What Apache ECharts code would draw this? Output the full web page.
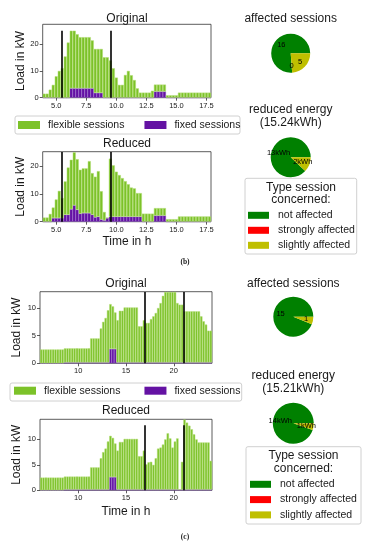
<!DOCTYPE html>
<html><head><meta charset="utf-8">
<script src="https://cdn.jsdelivr.net/npm/echarts@6/dist/echarts.min.js"></script>
<style>html,body{margin:0;padding:0;background:#fff}#c{width:371px;height:550px}</style>
</head><body><div id="c"></div>
<script>
// ---------- (b) load profiles, 15-min bins centred from 4:00 ----------
const bStart = 4.0, binH = 0.25;
const bTimes = Array.from({length: 56}, (_, i) => bStart + binH * i);
const bOrigFlex = [1.5,1.5,3.0,4.8,8.0,10.0,11.0,15.4,20.6,21.5,21.5,20.2,19.1,19.1,19.1,19.1,17.9,16.4,16.4,16.4,
  15.1,15.1,13.9,11.0,7.5,4.8,4.8,8.5,10.0,8.4,6.6,3.5,1.9,1.9,1.9,1.9,2.6,2.6,2.6,2.6,2.6,0.9,0.9,0.9,0.9,
  1.9,1.9,1.9,1.9,1.9,1.9,1.9,1.9,1.9,1.9,1.9];
const bOrigFixed = [0,0,0,0,0,0,0,0,0,3.5,3.5,3.5,3.5,3.5,3.5,3.5,3.5,1.8,1.8,1.8,
  0,0,0,0,0,0,0,0,0,0,0,0,0,0,0,0,0,2.3,2.3,2.3,2.3,0,0,0,0,
  0,0,0,0,0,0,0,0,0,0,0];
const bRedFlex = [1.5,1.5,2.8,3.8,6.7,9.8,7.2,12.0,17.0,17.8,19.1,18.2,15.8,16.1,16.1,18.7,15.0,14.6,16.4,10.2,
  3.0,0.2,20.9,18.5,16.2,15.0,13.9,12.8,11.7,10.5,10.2,8.5,8.5,2.9,2.9,2.9,2.9,2.7,2.7,2.7,2.7,0.9,0.9,0.9,0.9,
  1.9,1.9,1.9,1.9,1.9,1.9,1.9,1.9,1.9,1.9,1.9];
const bRedFixed = [0,0,0,1.3,1.3,1.3,1.3,2.5,2.5,4.5,5.9,4.3,2.9,3.1,3.1,3.1,2.5,1.6,1.8,0.8,
  0.5,1.3,1.8,1.8,1.8,1.8,1.8,1.8,1.8,1.8,1.8,1.8,1.8,0,0,0,0,2.2,2.2,2.2,2.2,0,0,0,0,
  0,0,0,0,0,0,0,0,0,0,0];
const bLineTimes = [5.5, 9.5];
const bOrigLineTop = 25, bRedLineTop = 25.1;
const bXTicks = [5, 7.5, 10, 12.5, 15, 17.5];
const bYTicks = [0, 10, 20];

// ---------- (c) load profiles, 15-min bins from 6:00 ----------
const cStart = 6.125;
const cTimes = Array.from({length: 72}, (_, i) => cStart + binH * i);
const cOrigFlex = [2.5,2.5,2.5,2.5,2.5,2.5,2.5,2.5,2.5,2.5,
  2.55,2.55,2.55,2.55,2.55,2.55,2.55,2.55,2.55,2.55,2.55,
  4.35,4.35,4.35,4.35,6.15,7.35,8.05,9.45,8.1,7.7,6.6,7.65,9.35,9.35,
  9.95,9.95,9.95,9.95,9.95,9.95,6.55,6.55,7.65,
  7.15,7.15,7.85,8.35,8.95,9.85,10.75,12.05,12.75,12.75,12.75,12.75,12.75,10.75,10.45,10.45,
  9.25,9.25,9.25,9.25,9.25,9.25,9.25,8.35,7.45,6.85,5.75,5.75];
const cOrigFixed = [0,0,0,0,0,0,0,0,0,0,
  0.15,0.15,0.15,0.15,0.15,0.15,0.15,0.15,0.15,0.15,0.15,
  0.15,0.15,0.15,0.15,0.15,0.15,0.15,0.15,2.6,2.6,2.6,0.15,0.15,0.15,
  0.15,0.15,0.15,0.15,0.15,0.15,0.15,0.15,0.15,
  0.15,0.15,0.15,0.15,0.15,0.15,0.15,0.15,0.15,0.15,0.15,0.15,0.15,0.15,0.15,0.15,
  0.15,0.15,0.15,0.15,0.15,0.15,0.15,0.15,0.15,0.15,0.15,0.15];
const cRedFlex = [2.5,2.5,2.5,2.5,2.5,2.5,2.5,2.5,2.5,2.5,
  2.55,2.55,2.55,2.55,2.55,2.55,2.55,2.55,2.55,2.55,2.55,
  4.35,4.35,4.35,4.35,6.15,7.35,8.05,9.45,8.1,7.7,6.6,7.65,9.35,9.35,
  9.95,9.95,9.95,9.95,9.95,9.95,6.55,6.55,7.65,
  4.95,5.35,5.45,4.85,6.15,8.05,8.25,8.85,9.85,11.05,10.05,8.25,9.45,10.05,0,5.45,
  13.75,13.15,12.55,11.85,10.85,9.85,9.25,9.25,9.25,9.25,9.25,5.65];
const cRedFixed = cOrigFixed.slice();
const cLineTimes = [17, 21];
const cOrigLineTop = 12.9, cRedLineTop = 12.8;
const cXTicks = [10, 15, 20];
const cYTicks = [0, 5, 10];

// ---------- pies ----------
const pieNames = ['not affected', 'strongly affected', 'slightly affected'];
const bSessions = [16, 0, 5];
const bEnergy = [13.4, 0, 1.84];
const cSessions = [15, 0, 1];
const cEnergy = [14.4, 0, 0.81];

const FLEX = '#7cc229', FIX = '#6412a3';
const PIE_COLORS = ['#008000', '#ff0000', '#bfbf00'];
const FONT = 'Liberation Sans, Arial, sans-serif';
const TXT = '#1a1a1a';

const grids = [
  {left: 42.7, top: 24.3, width: 168.3, height: 73.4},
  {left: 42.7, top: 151.7, width: 168.3, height: 70},
  {left: 40, top: 291.7, width: 172, height: 71.6},
  {left: 40, top: 419.3, width: 172, height: 71}
].map(g => Object.assign({show: true, borderColor: '#333', borderWidth: 0.8, backgroundColor: 'transparent'}, g));

function catAx(gi, times) {
  return {type: 'category', gridIndex: gi, position: 'top', data: times.map(String), boundaryGap: true, show: false};
}
function xAx(gi, min, max, ticks, fmt, nameGap) {
  return {type: 'value', gridIndex: gi, position: 'bottom', min, max,
    axisLine: {show: false},
    axisTick: {show: true, customValues: ticks, length: 3, lineStyle: {color: '#333', width: 0.8}},
    axisLabel: {customValues: ticks, formatter: fmt, fontSize: 7.5, color: TXT, margin: 4, fontFamily: FONT},
    splitLine: {show: false},
    name: nameGap ? 'Time in h' : '', nameLocation: 'middle', nameGap: nameGap || 0,
    nameTextStyle: {fontSize: 12, color: TXT, fontFamily: FONT}};
}
function yAx(gi, max, ticks, nameGap) {
  return {type: 'value', gridIndex: gi, min: 0, max,
    axisLine: {show: false},
    axisTick: {show: true, customValues: ticks, length: 3, lineStyle: {color: '#333', width: 0.8}},
    axisLabel: {customValues: ticks, fontSize: 7.5, color: TXT, margin: 4, fontFamily: FONT},
    splitLine: {show: false},
    name: 'Load in kW', nameLocation: 'middle', nameGap, nameRotate: 90,
    nameTextStyle: {fontSize: 12, color: TXT, fontFamily: FONT}};
}
function barPair(gi, fixed, flex, lines, top) {
  const common = {type: 'bar', xAxisIndex: 2 * gi, yAxisIndex: gi, stack: 'load' + gi,
    barCategoryGap: '0%', barGap: '0%', silent: true};
  return [
    Object.assign({}, common, {name: 'fixed sessions', data: fixed,
      itemStyle: {color: FIX, borderColor: '#8c55c4', borderWidth: 0.4}}),
    Object.assign({}, common, {name: 'flexible sessions', data: flex,
      itemStyle: {color: FLEX, borderColor: '#b4df78', borderWidth: 0.5}}),
    {type: 'line', name: 'limits' + gi, xAxisIndex: 2 * gi + 1, yAxisIndex: gi, data: [], silent: true,
      markLine: {silent: true, symbol: ['none', 'none'], label: {show: false}, z: 10,
        lineStyle: {color: '#000', width: 1.6, type: 'solid'},
        data: lines.map(x => [{coord: [x, 0]}, {coord: [x, top]}])}}
  ];
}
function pie(center, r, vals, fmt) {
  return {type: 'pie', center, radius: [0, r], startAngle: 0, clockwise: false, silent: true,
    color: PIE_COLORS, minAngle: 0,
    label: {show: true, position: 'inside', formatter: fmt, fontSize: 7.5, color: '#000', fontFamily: FONT},
    labelLine: {show: false}, emphasis: {disabled: true},
    data: pieNames.map((n, i) => ({name: n, value: vals[i]}))};
}
const cntFmt = p => String(p.value);
const kwhFmt = p => Math.round(p.value) + 'kWh';

function txt(x, y, text, size, extra) {
  return {type: 'text', x, y, silent: true, z: 100,
    style: Object.assign({text, fontSize: size, fontFamily: FONT, fill: TXT, align: 'center', verticalAlign: 'middle'}, extra || {})};
}
function box(x, y, w, h) {
  return {type: 'rect', shape: {x, y, width: w, height: h, r: 2}, silent: true, z: 1,
    style: {fill: '#fff', stroke: '#d0d0d0', lineWidth: 1}};
}

const barLegend = (left, top, gap) => ({data: ['flexible sessions', 'fixed sessions'], left, top, orient: 'horizontal',
  itemWidth: 22, itemHeight: 8, itemGap: gap, padding: 0, selectedMode: false, icon: 'rect', z: 10,
  itemStyle: {borderWidth: 0},
  textStyle: {fontSize: 10.5, color: TXT, fontFamily: FONT, lineHeight: 12, padding: [0, 0, 0, 3]}});
const pieLegend = (left, top, gap) => ({data: pieNames, left, top, orient: 'vertical',
  itemWidth: 21, itemHeight: 7, itemGap: gap, padding: 0, selectedMode: false, icon: 'rect', z: 10,
  itemStyle: {borderWidth: 0},
  textStyle: {fontSize: 10.5, color: TXT, fontFamily: FONT, lineHeight: 12, padding: [0, 0, 0, 4]}});

const option = {
  animation: false,
  backgroundColor: '#fff',
  grid: grids,
  xAxis: [
    catAx(0, bTimes), xAx(0, 3.875, 17.875, bXTicks, v => v.toFixed(1), 0),
    catAx(1, bTimes), xAx(1, 3.875, 17.875, bXTicks, v => v.toFixed(1), 14),
    catAx(2, cTimes), xAx(2, 6, 24, cXTicks, v => String(v), 0),
    catAx(3, cTimes), xAx(3, 6, 24, cXTicks, v => String(v), 15.5)
  ],
  yAxis: [
    yAx(0, 27.4, bYTicks, 15.5),
    yAx(1, 25.2, bYTicks, 15.5),
    yAx(2, 12.95, cYTicks, 17),
    yAx(3, 13.95, cYTicks, 17)
  ],
  legend: [
    barLegend(18, 119, 20),
    barLegend(14, 384.7, 24),
    pieLegend(248, 209.3, 3),
    pieLegend(250, 478.3, 3.3)
  ],
  series: [].concat(
    barPair(0, bOrigFixed, bOrigFlex, bLineTimes, bOrigLineTop),
    barPair(1, bRedFixed, bRedFlex, bLineTimes, bRedLineTop),
    barPair(2, cOrigFixed, cOrigFlex, cLineTimes, cOrigLineTop),
    barPair(3, cRedFixed, cRedFlex, cLineTimes, cRedLineTop),
    [pie([290.7, 53.3], 19.5, bSessions, cntFmt),
     pie([290.7, 157.3], 20, bEnergy, kwhFmt),
     pie([293.3, 316.7], 20, cSessions, cntFmt),
     pie([293.3, 423.3], 20.5, cEnergy, kwhFmt)]
  ),
  graphic: [
    box(15, 116, 225, 18),
    box(10, 383, 231.7, 18),
    box(245, 178.3, 111.7, 75.7),
    box(246, 446.7, 115, 77.3),
    txt(127, 19, 'Original', 12),
    txt(127, 143.3, 'Reduced', 12),
    txt(126, 283.3, 'Original', 12),
    txt(126, 410.7, 'Reduced', 12),
    txt(290.7, 19, 'affected sessions', 12),
    txt(290.7, 109.5, 'reduced energy', 12),
    txt(290.7, 122.3, '(15.24kWh)', 12),
    txt(293.3, 283.3, 'affected sessions', 12),
    txt(293.3, 376, 'reduced energy', 12),
    txt(293.3, 388.5, '(15.21kWh)', 12),
    txt(301, 187.3, 'Type session', 12),
    txt(301, 200, 'concerned:', 12),
    txt(303.5, 455.5, 'Type session', 12),
    txt(303.5, 469, 'concerned:', 12),
    txt(185, 262, '(b)', 7.5, {fontFamily: 'Liberation Serif, serif', fontWeight: 'bold'}),
    txt(185, 537, '(c)', 7.5, {fontFamily: 'Liberation Serif, serif', fontWeight: 'bold'})
  ]
};
const chart = echarts.init(document.getElementById('c'), null, {renderer: 'canvas'});
chart.setOption(option);
</script></body></html>
